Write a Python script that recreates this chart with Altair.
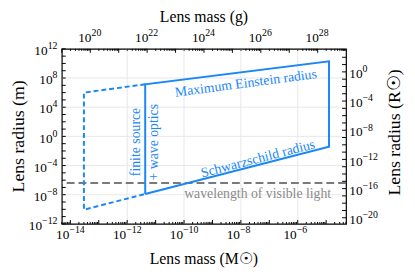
import math
import altair as alt
import pandas as pd

MSUN_G = 1.989e33      # grams per solar mass
RSUN_M = 6.957e8       # metres per solar radius

x_domain = [5e-15, 5e-5]
y_domain = [1e-12, 1e12]

# solid outline (Schwarzschild -> right edge -> Einstein -> left edge)
solid_mass = [4.3e-12, 1.26e-5, 1.26e-5, 4.3e-12, 4.3e-12]
solid_radius = [1.27e-8, 3.7e-2, 2.0e10, 1.4e7, 1.27e-8]
# dashed extension
dashed_mass = [4.3e-12, 3e-14, 3e-14, 4.3e-12]
dashed_radius = [1.4e7, 1.0e6, 8.9e-11, 1.27e-8]
visible_wavelength = [4e-7]

# annotations
ann_blue_text = ["Maximum Einstein radius", "Schwarzschild radius"]
ann_blue_x = [1.5e-8, 4.0e-8]
ann_blue_y = [1.8e7, 8.0e-4]
ann_blue_angle = [352.5, 345.5]
ann_vert_text = ["finite source", "+ wave optics"]
ann_vert_x = [2.1e-12, 8.9e-12]
ann_vert_y = [0.17, 0.16]
ann_gray_text = ["wavelength of visible light"]
ann_gray_x = [1.5e-5]
ann_gray_y = [1.25e-8]

# axis titles
title_bottom = ["Lens mass (M☉)"]
title_top = ["Lens mass (g)"]
title_left = ["Lens radius (m)"]
title_right = ["Lens radius (R☉)"]

# axis tick labels
bottom_label_vals = [1e-14, 1e-12, 1e-10, 1e-8, 1e-6]      # solar masses
bottom_grid_vals = [1e-12, 1e-10, 1e-8, 1e-6]
left_label_vals = [1e-12, 1e-8, 1e-4, 1e0, 1e4, 1e8, 1e12]  # metres
left_grid_vals = [1e-8, 1e-4, 1e0, 1e4, 1e8]
top_label_vals = [1e20, 1e22, 1e24, 1e26, 1e28]             # grams
right_label_vals = [1e-20, 1e-16, 1e-12, 1e-8, 1e-4, 1e0]   # solar radii

W, H = 289, 178
BLUE = "#1a87f7"
FONT = "Liberation Serif"
BFS, EFS = 13.5, 10      # base "10" and exponent font sizes


def exp_str(v):
    return str(int(round(math.log10(v)))).replace("-", "−")


def exp_width(s):
    return sum(0.564 if c == "−" else 0.5 for c in s) * EFS


xs = alt.Scale(type="log", domain=x_domain, nice=False)
ys = alt.Scale(type="log", domain=y_domain, nice=False)
X = lambda f: alt.X(f, type="quantitative", scale=xs, axis=None)
Y = lambda f: alt.Y(f, type="quantitative", scale=ys, axis=None)


def decades(lo, hi):
    return [10.0 ** e for e in range(lo, hi + 1)]


x_major = decades(-14, -5)
x_minor = [k * 10.0 ** e for e in range(-15, -4) for k in range(2, 10)
           if x_domain[0] <= k * 10.0 ** e <= x_domain[1]]
top_major = [g / MSUN_G for g in decades(19, 28) if x_domain[0] <= g / MSUN_G <= x_domain[1]]
top_minor = [k * 10.0 ** e / MSUN_G for e in range(18, 29) for k in range(2, 10)
             if x_domain[0] <= k * 10.0 ** e / MSUN_G <= x_domain[1]]
left_major = decades(-12, 12)
right_major = [r * RSUN_M for r in decades(-20, 3) if y_domain[0] <= r * RSUN_M <= y_domain[1]]

grid_x = alt.Chart(pd.DataFrame({"m": bottom_grid_vals})).mark_rule(
    color="#e8e8e8", strokeWidth=1).encode(x=X("m"))
grid_y = alt.Chart(pd.DataFrame({"r": left_grid_vals})).mark_rule(
    color="#e8e8e8", strokeWidth=1).encode(y=Y("r"))


def xticks(vals, y0, y1):
    return alt.Chart(pd.DataFrame({"m": vals})).mark_rule(color="black", strokeWidth=1).encode(
        x=X("m"), y=alt.value(y0), y2=alt.value(y1))


def yticks(vals, x0, x1):
    return alt.Chart(pd.DataFrame({"r": vals})).mark_rule(color="black", strokeWidth=1).encode(
        y=Y("r"), x=alt.value(x0), x2=alt.value(x1))


ticks = [
    xticks(x_major, H, H - 4), xticks(x_minor, H, H - 2),
    xticks(top_major, 0, 4), xticks(top_minor, 0, 2),
    yticks(left_major, 0, 4), yticks(right_major, W, W - 4),
]


# ---- tick labels: "10" plus a raised exponent
def xlabels(pos, exps, bb, dx):
    df = pd.DataFrame({"m": pos, "b": ["10"] * len(pos), "e": exps})
    base = alt.Chart(df).mark_text(font=FONT, fontSize=BFS, color="black", align="right",
                                   baseline="alphabetic", dx=dx).encode(
        x=X("m"), y=alt.value(bb), text="b:N")
    exp = alt.Chart(df).mark_text(font=FONT, fontSize=EFS, color="black", align="left",
                                  baseline="alphabetic", dx=dx).encode(
        x=X("m"), y=alt.value(bb - 6), text="e:N")
    return [base, exp]


def ylabels_left(pos, exps):
    layers = []
    widths = sorted(set(round(exp_width(e), 2) for e in exps))
    for w in widths:
        sel = [(p, e) for p, e in zip(pos, exps) if round(exp_width(e), 2) == w]
        df = pd.DataFrame({"r": [p for p, _ in sel], "b": ["10"] * len(sel), "e": [e for _, e in sel]})
        layers.append(alt.Chart(df).mark_text(font=FONT, fontSize=BFS, color="black", align="right",
                                              baseline="alphabetic", dy=6.3).encode(
            y=Y("r"), x=alt.value(-4.4 - w), text="b:N"))
        layers.append(alt.Chart(df).mark_text(font=FONT, fontSize=EFS, color="black", align="right",
                                              baseline="alphabetic", dy=0.3).encode(
            y=Y("r"), x=alt.value(-4.4), text="e:N"))
    return layers


def ylabels_right(pos, exps):
    df = pd.DataFrame({"r": pos, "b": ["10"] * len(pos), "e": exps})
    base = alt.Chart(df).mark_text(font=FONT, fontSize=BFS, color="black", align="left",
                                   baseline="alphabetic", dy=6.3).encode(
        y=Y("r"), x=alt.value(W + 3.3), text="b:N")
    exp = alt.Chart(df).mark_text(font=FONT, fontSize=EFS, color="black", align="left",
                                  baseline="alphabetic", dy=0.3).encode(
        y=Y("r"), x=alt.value(W + 3.3 + BFS), text="e:N")
    return [base, exp]


labels = (
    xlabels(bottom_label_vals, [exp_str(v) for v in bottom_label_vals], H + 15, -1)
    + xlabels([g / MSUN_G for g in top_label_vals], [exp_str(v) for v in top_label_vals], -7, 1.2)
    + ylabels_left(left_label_vals, [exp_str(v) for v in left_label_vals])
    + ylabels_right([r * RSUN_M for r in right_label_vals], [exp_str(v) for v in right_label_vals])
)


def title_mark(text, x, y, size, angle=0):
    return alt.Chart(pd.DataFrame({"t": text})).mark_text(
        font=FONT, fontSize=size, color="black", align="center", baseline="middle", angle=angle).encode(
        x=alt.value(x), y=alt.value(y), text="t:N")


titles = [
    title_mark(title_bottom, W / 2, H + 35.7, 16),
    title_mark(title_top, W / 2, -32.3, 16),
    title_mark(title_left, -43.5, H / 2, 18, 270),
    title_mark(title_right, W + 50.3, H / 2 - 4, 18, 270),
]

wave = alt.Chart(pd.DataFrame({"r": visible_wavelength})).mark_rule(
    color="#7a7a7a", strokeWidth=2, strokeDash=[8, 4]).encode(y=Y("r"))

solid = alt.Chart(pd.DataFrame({"m": solid_mass, "r": solid_radius,
                                "i": list(range(len(solid_mass)))})).mark_line(
    color=BLUE, strokeWidth=2, strokeJoin="miter").encode(x=X("m"), y=Y("r"), order="i:Q")
dashed = alt.Chart(pd.DataFrame({"m": dashed_mass, "r": dashed_radius,
                                 "i": list(range(len(dashed_mass)))})).mark_line(
    color=BLUE, strokeWidth=2, strokeDash=[5, 3]).encode(x=X("m"), y=Y("r"), order="i:Q")

blue_txt = alt.Chart(pd.DataFrame({"m": ann_blue_x, "r": ann_blue_y, "t": ann_blue_text,
                                   "a": ann_blue_angle})).mark_text(
    color=BLUE, font=FONT, fontSize=14, align="center", baseline="middle").encode(
    x=X("m"), y=Y("r"), text="t:N", angle=alt.Angle("a:Q", scale=None))
vert_txt = alt.Chart(pd.DataFrame({"m": ann_vert_x, "r": ann_vert_y, "t": ann_vert_text})).mark_text(
    color=BLUE, font=FONT, fontSize=14, align="center", baseline="middle", angle=270).encode(
    x=X("m"), y=Y("r"), text="t:N")
gray_txt = alt.Chart(pd.DataFrame({"m": ann_gray_x, "r": ann_gray_y, "t": ann_gray_text})).mark_text(
    color="#8a8a8a", font=FONT, fontSize=14, align="right", baseline="middle").encode(
    x=X("m"), y=Y("r"), text="t:N")

chart = alt.layer(grid_x, grid_y, wave, dashed, solid, *ticks, blue_txt, vert_txt, gray_txt,
                  *labels, *titles).properties(
    width=W, height=H,
    autosize=alt.AutoSizeParams(type="none"),
    padding={"left": 54.7, "top": 39.3, "right": 62, "bottom": 49},
).configure_view(stroke="black", strokeWidth=1.2)

chart.save("out.html", embed_options={"renderer": "svg", "actions": False})
